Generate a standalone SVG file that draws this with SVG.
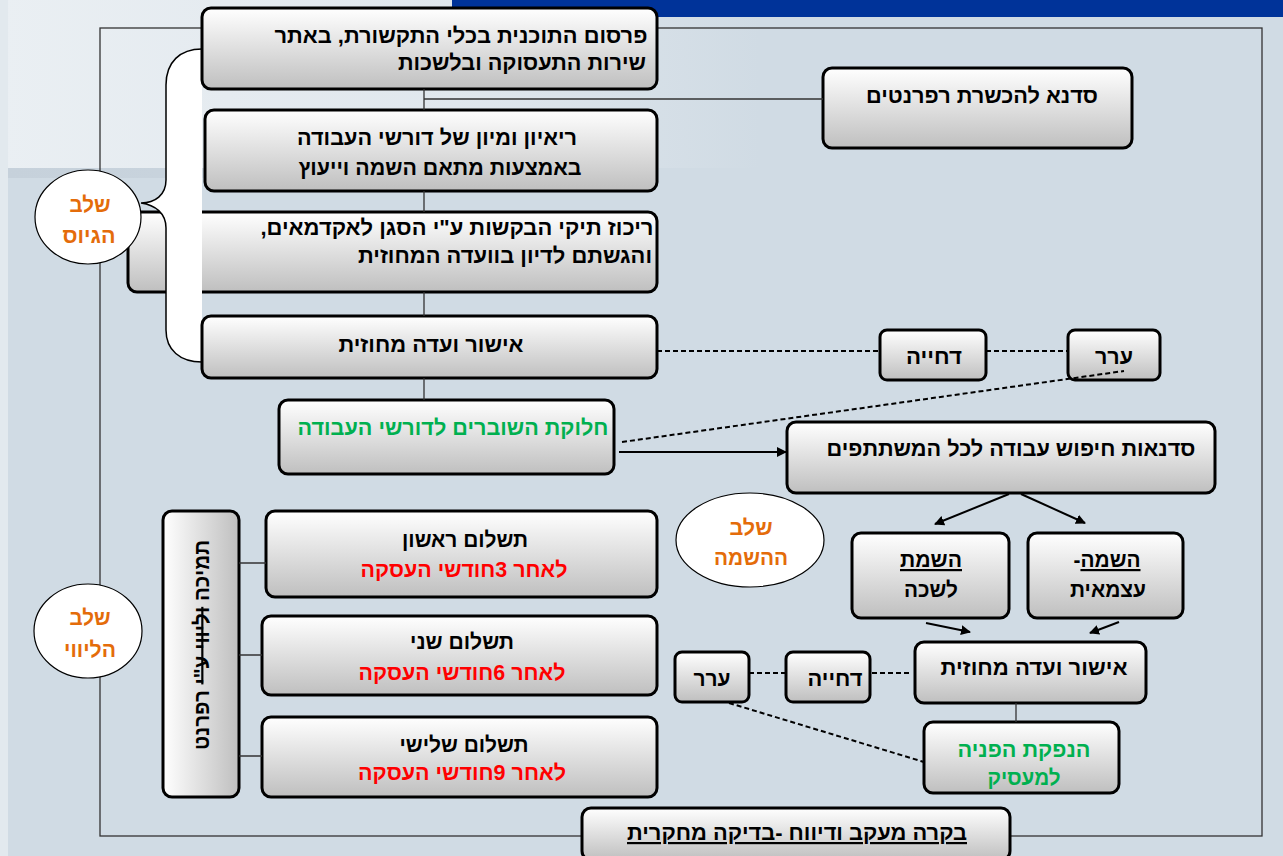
<svg xmlns="http://www.w3.org/2000/svg" width="1283" height="856" viewBox="0 0 1283 856">
<defs>
<linearGradient id="gBox" x1="0" y1="0" x2="0" y2="1"><stop offset="0" stop-color="#ffffff"/><stop offset="1" stop-color="#bfbfbf"/></linearGradient>
<linearGradient id="gVert" x1="0" y1="0" x2="1" y2="0"><stop offset="0" stop-color="#ffffff"/><stop offset="1" stop-color="#bfbfbf"/></linearGradient>
<linearGradient id="gBg" x1="0" y1="0" x2="1" y2="0"><stop offset="0" stop-color="#eaeff3"/><stop offset="0.6" stop-color="#e0e7ed"/><stop offset="1" stop-color="#d0dbe4"/></linearGradient>
<linearGradient id="gBand" x1="0" y1="0" x2="1" y2="0"><stop offset="0" stop-color="#c6d1db"/><stop offset="0.7" stop-color="#ccd7e0"/><stop offset="1" stop-color="#d0dbe4"/></linearGradient>
<marker id="ah" viewBox="0 0 10 10" refX="9" refY="5" markerWidth="5" markerHeight="5" orient="auto" markerUnits="strokeWidth"><path d="M0,0 L10,5 L0,10 Z" fill="#000"/></marker>
</defs>
<style>
.box{fill:url(#gBox);stroke:#000;stroke-width:3}
.t{font-family:"Liberation Sans",Arial,"DejaVu Sans",sans-serif;font-weight:bold;font-size:22px;fill:#000;direction:rtl;text-anchor:middle}
.s20{font-size:21px}
.or{fill:#E46C0A}
.gr{fill:#00B050}
.rd{fill:#FF0000}
.oval{fill:#fff;stroke:#000;stroke-width:1.2}
.ln{stroke:#333;stroke-width:1.3;fill:none}
.dash{stroke:#000;stroke-width:2;stroke-dasharray:5,3;fill:none}
.arr{stroke:#000;stroke-width:2;fill:none;marker-end:url(#ah)}
</style>
<rect x="0" y="0" width="1283" height="856" fill="#d0dbe4"/>
<rect x="0" y="0" width="760" height="168" fill="url(#gBg)"/>
<rect x="8" y="168" width="640" height="10" fill="url(#gBand)"/>
<rect x="0" y="0" width="8" height="856" fill="#e2e9ee"/>
<rect x="452" y="0" width="831" height="17" fill="#003399"/>
<rect x="100" y="28" width="1162" height="808" class="ln"/>

<g id="n-ricuz">
<rect x="128" y="212" width="529" height="80" rx="9" class="box"/>
<text class="t" x="457" y="235" textLength="393" lengthAdjust="spacingAndGlyphs">ריכוז תיקי הבקשות ע"י הסגן לאקדמאים,</text>
<text class="t" x="505" y="263" textLength="294" lengthAdjust="spacingAndGlyphs">והגשתם לדיון בוועדה המחוזית</text>
</g>

<g id="brace">
<path d="M202,49 C180,49 166,62 166,85 L166,180 C166,195 155,203 141,203 C155,205 166,213 166,228 L166,330 C166,350 180,362 202,362 Z" fill="#fff"/>
<path d="M202,49 C180,49 166,62 166,85 L166,180 C166,195 155,203 141,203 C155,205 166,213 166,228 L166,330 C166,350 180,362 202,362" fill="none" stroke="#000" stroke-width="1.5"/>
</g>

<g id="n-pirsum">
<rect x="202" y="8" width="455" height="81" rx="9" class="box"/>
<text class="t" x="461" y="43" textLength="373" lengthAdjust="spacingAndGlyphs">פרסום התוכנית בכלי התקשורת, באתר</text>
<text class="t" x="522" y="70" textLength="248" lengthAdjust="spacingAndGlyphs">שירות התעסוקה ובלשכות</text>
</g>

<g id="n-raayon">
<rect x="205" y="110" width="452" height="81" rx="9" class="box"/>
<text class="t s20" x="437" y="145" textLength="280" lengthAdjust="spacingAndGlyphs">ריאיון ומיון של דורשי העבודה</text>
<text class="t s20" x="440" y="175" textLength="283" lengthAdjust="spacingAndGlyphs">באמצעות מתאם השמה וייעוץ</text>
</g>

<g id="n-ishur1">
<rect x="202" y="316" width="455" height="62" rx="9" class="box"/>
<text class="t" x="431" y="352" textLength="185" lengthAdjust="spacingAndGlyphs">אישור ועדה מחוזית</text>
</g>

<g id="n-shovarim">
<rect x="279" y="400" width="335" height="74" rx="9" class="box"/>
<text class="t gr" x="453" y="435" textLength="311" lengthAdjust="spacingAndGlyphs">חלוקת השוברים לדורשי העבודה</text>
</g>

<g id="n-sadna">
<rect x="823" y="68" width="309" height="80" rx="9" class="box"/>
<text class="t" x="982" y="103" textLength="232" lengthAdjust="spacingAndGlyphs">סדנא להכשרת רפרנטים</text>
</g>

<g id="n-dchiya1">
<rect x="880" y="330" width="106" height="50" rx="7" class="box"/>
<text class="t" x="934" y="364" textLength="56" lengthAdjust="spacingAndGlyphs">דחייה</text>
</g>

<g id="n-arar1">
<rect x="1068" y="330" width="92" height="50" rx="7" class="box"/>
<text class="t" x="1114" y="364" textLength="38" lengthAdjust="spacingAndGlyphs">ערר</text>
</g>

<g id="n-sadnaot">
<rect x="787" y="422" width="428" height="71" rx="9" class="box"/>
<text class="t" x="1011" y="456" textLength="369" lengthAdjust="spacingAndGlyphs">סדנאות חיפוש עבודה לכל המשתתפים</text>
</g>

<g id="n-hasamat-lishka">
<rect x="852" y="533" width="157" height="85" rx="9" class="box"/>
<text class="t" x="931" y="567" text-decoration="underline" textLength="62" lengthAdjust="spacingAndGlyphs">השמת</text>
<text class="t" x="931" y="597" textLength="54" lengthAdjust="spacingAndGlyphs">לשכה</text>
</g>

<g id="n-hasama-atzmait">
<rect x="1028" y="533" width="155" height="85" rx="9" class="box"/>
<text class="t" x="1107" y="567" textLength="67" lengthAdjust="spacingAndGlyphs"><tspan text-decoration="underline">השמה</tspan>-</text>
<text class="t" x="1108" y="597" textLength="76" lengthAdjust="spacingAndGlyphs">עצמאית</text>
</g>

<g id="n-ishur2">
<rect x="915" y="642" width="231" height="61" rx="9" class="box"/>
<text class="t" x="1034" y="675" textLength="187" lengthAdjust="spacingAndGlyphs">אישור ועדה מחוזית</text>
</g>

<g id="n-hanpaka">
<rect x="924" y="722" width="195" height="71" rx="9" class="box"/>
<text class="t gr" x="1024" y="757" textLength="133" lengthAdjust="spacingAndGlyphs">הנפקת הפניה</text>
<text class="t gr" x="1024" y="785" textLength="73" lengthAdjust="spacingAndGlyphs">למעסיק</text>
</g>

<g id="n-dchiya2">
<rect x="786" y="652" width="84" height="50" rx="7" class="box"/>
<text class="t" x="835" y="686" textLength="55" lengthAdjust="spacingAndGlyphs">דחייה</text>
</g>

<g id="n-arar2">
<rect x="675" y="652" width="74" height="50" rx="7" class="box"/>
<text class="t" x="712" y="686" textLength="37" lengthAdjust="spacingAndGlyphs">ערר</text>
</g>

<g id="n-bakara">
<rect x="582" y="808" width="428" height="52" rx="9" class="box"/>
<text class="t" x="797" y="840" text-decoration="underline" textLength="340" lengthAdjust="spacingAndGlyphs">בקרה מעקב ודיווח -בדיקה מחקרית</text>
</g>

<g id="n-pay1">
<rect x="266" y="511" width="391" height="86" rx="9" class="box"/>
<text class="t" x="465" y="547" textLength="126" lengthAdjust="spacingAndGlyphs">תשלום ראשון</text>
<text class="t rd" x="464" y="577" textLength="207" lengthAdjust="spacingAndGlyphs">לאחר 3חודשי העסקה</text>
</g>

<g id="n-pay2">
<rect x="262" y="616" width="395" height="79" rx="9" class="box"/>
<text class="t" x="462" y="649" textLength="104" lengthAdjust="spacingAndGlyphs">תשלום שני</text>
<text class="t rd" x="462" y="680" textLength="207" lengthAdjust="spacingAndGlyphs">לאחר 6חודשי העסקה</text>
</g>

<g id="n-pay3">
<rect x="262" y="717" width="395" height="80" rx="9" class="box"/>
<text class="t" x="464" y="752" textLength="129" lengthAdjust="spacingAndGlyphs">תשלום שלישי</text>
<text class="t rd" x="462" y="780" textLength="208" lengthAdjust="spacingAndGlyphs">לאחר 9חודשי העסקה</text>
</g>

<g id="n-tmicha">
<rect x="163" y="511" width="76" height="286" rx="9" fill="url(#gVert)" stroke="#000" stroke-width="3"/>
<text class="t" transform="translate(209,645) rotate(-90)" x="0" y="0" textLength="210" lengthAdjust="spacingAndGlyphs">תמיכה <tspan text-decoration="line-through">וליווי ע"י</tspan> רפרנט</text>
</g>

<g id="n-shlav-giyus">
<ellipse cx="88" cy="217" rx="53" ry="47" class="oval"/>
<text class="t or" x="90" y="212" textLength="41" lengthAdjust="spacingAndGlyphs">שלב</text>
<text class="t or" x="89" y="243" textLength="53" lengthAdjust="spacingAndGlyphs">הגיוס</text>
</g>

<g id="n-shlav-hasama">
<ellipse cx="750" cy="540" rx="74" ry="47" class="oval"/>
<text class="t or" x="751" y="535" textLength="43" lengthAdjust="spacingAndGlyphs">שלב</text>
<text class="t or" x="751" y="565" textLength="74" lengthAdjust="spacingAndGlyphs">ההשמה</text>
</g>

<g id="n-shlav-livuy">
<ellipse cx="88" cy="631" rx="54" ry="47" class="oval"/>
<text class="t or" x="90" y="625" textLength="41" lengthAdjust="spacingAndGlyphs">שלב</text>
<text class="t or" x="90" y="657" textLength="52" lengthAdjust="spacingAndGlyphs">הליווי</text>
</g>

<g id="connectors">
<path class="ln" d="M424,89 V110 M424,191 V212 M424,292 V316 M424,378 V400"/>
<path class="ln" d="M424,99 H823"/>
<path class="ln" d="M1016,703 V722"/>
<path class="ln" d="M239,563 H266 M239,655 H262 M239,756 H262"/>
<path class="dash" d="M657,351 H880 M986,351 H1068"/>
<path class="dash" d="M622,442 L1124,371"/>
<path class="dash" d="M909,673 H870 M786,673 H749"/>
<path class="dash" d="M729,703 L924,762"/>
<path class="arr" d="M619,452 H786"/>
<path class="arr" d="M1009,494 L935,524"/>
<path class="arr" d="M1021,494 L1085,523"/>
<path class="arr" d="M926,623 L970,632"/>
<path class="arr" d="M1119,622 L1090,633"/>
</g>
</svg>
